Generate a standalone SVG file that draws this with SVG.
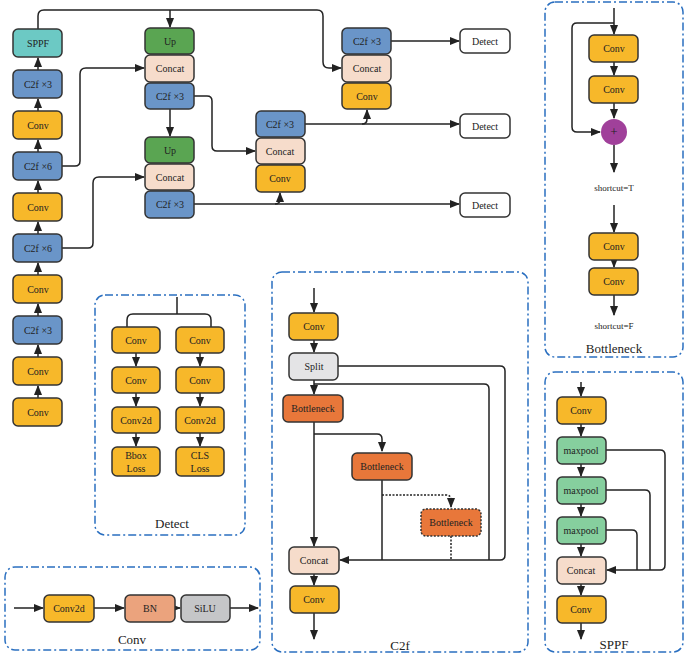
<svg xmlns="http://www.w3.org/2000/svg" width="685" height="656" viewBox="0 0 685 656">
<defs>
<marker id="a" viewBox="0 0 10 10" refX="9" refY="5" markerWidth="7" markerHeight="7" orient="auto"><path d="M0,1 L10,5 L0,9 z" fill="#222"/></marker>
<style>
rect.n{stroke:#333;stroke-width:1.5;rx:5}
.y{fill:#f7b82a}.b{fill:#6a95c8}.t{fill:#6cc9c4}.g{fill:#5aa552}.c{fill:#f6dccb}.o{fill:#e8773a}.s{fill:#e4e4e6}.m{fill:#86cf9e}.bn{fill:#eba37d}.si{fill:#c5c6c8}.w{fill:#fff}
text{font-family:"Liberation Serif",serif;font-size:10px;fill:#222;text-anchor:middle;dominant-baseline:central}
.lab{font-size:13px}
.p{fill:none;stroke:#2a6fc0;stroke-width:1.5;stroke-dasharray:8 3 2 3}
#conn path{fill:none;stroke:#222;stroke-width:1.5}
.d{stroke-dasharray:2 1.5}
</style>
</defs>
<rect fill="#fff" width="685" height="656"/>
<g id="panels">
<rect class="p" x="95" y="295" width="150" height="240" rx="10"/>
<rect class="p" x="5" y="567" width="255" height="83" rx="10"/>
<rect class="p" x="272" y="272" width="256" height="380" rx="10"/>
<rect class="p" x="545" y="2" width="138" height="355" rx="10"/>
<rect class="p" x="545" y="372" width="138" height="280" rx="10"/>
<text class="lab" x="172" y="523">Detect</text>
<text class="lab" x="132" y="639">Conv</text>
<text class="lab" x="400" y="645">C2f</text>
<text class="lab" x="614" y="348">Bottleneck</text>
<text class="lab" x="614" y="644">SPPF</text>
</g>
<g id="conn">
<path d="M38,29 V16 Q38,10 44,10 H317 Q323,10 323,16 V62 Q323,68 329,68 H341" marker-end="url(#a)"/>
<path d="M170,10 V27" marker-end="url(#a)"/>
<path d="M38,70 V58" marker-end="url(#a)"/>
<path d="M38,111 V99" marker-end="url(#a)"/>
<path d="M38,152 V140" marker-end="url(#a)"/>
<path d="M38,193 V181" marker-end="url(#a)"/>
<path d="M38,234 V222" marker-end="url(#a)"/>
<path d="M38,275 V263" marker-end="url(#a)"/>
<path d="M38,316 V304" marker-end="url(#a)"/>
<path d="M38,357 V345" marker-end="url(#a)"/>
<path d="M38,398 V386" marker-end="url(#a)"/>
<path d="M62,166 H75 Q80,166 80,161 V74 Q80,68 86,68 H144" marker-end="url(#a)"/>
<path d="M62,248 H88 Q93,248 93,243 V183 Q93,177 99,177 H144" marker-end="url(#a)"/>
<path d="M170,109 V136" marker-end="url(#a)"/>
<path d="M194,96 H207 Q212,96 212,101 V146 Q212,151 217,151 H255" marker-end="url(#a)"/>
<path d="M194,204 H459" marker-end="url(#a)"/>
<path d="M275,204 Q280,204 280,199 V193" marker-end="url(#a)"/>
<path d="M305,124 H459" marker-end="url(#a)"/>
<path d="M362,124 Q367,124 367,119 V110" marker-end="url(#a)"/>
<path d="M391,41 H459" marker-end="url(#a)"/>
<path d="M177,297 V314 M127,328 V320 Q127,314 133,314 H205 Q211,314 211,320 V328"/>
<path d="M136,353 V366" marker-end="url(#a)"/>
<path d="M136,393 V406" marker-end="url(#a)"/>
<path d="M136,433 V446" marker-end="url(#a)"/>
<path d="M200,353 V366" marker-end="url(#a)"/>
<path d="M200,393 V406" marker-end="url(#a)"/>
<path d="M200,433 V446" marker-end="url(#a)"/>
<path d="M14,608 H43" marker-end="url(#a)"/>
<path d="M94,608 H124" marker-end="url(#a)"/>
<path d="M175,608 H180" marker-end="url(#a)"/>
<path d="M230,608 H258" marker-end="url(#a)"/>
<path d="M314,288 V312" marker-end="url(#a)"/>
<path d="M314,340 V352" marker-end="url(#a)"/>
<path d="M314,380 V394" marker-end="url(#a)"/>
<path d="M338,366 H500 Q505,366 505,371 V555 Q505,560 500,560 H340" marker-end="url(#a)"/>
<path d="M314,384 H484 Q489,384 489,389 V560"/>
<path d="M314,422 V546" marker-end="url(#a)"/>
<path d="M314,434 H377 Q382,434 382,439 V451" marker-end="url(#a)"/>
<path d="M382,480 V560"/>
<path class="d" d="M382,495 H446 Q451,495 451,500 V507" marker-end="url(#a)"/>
<path class="d" d="M451,536 V560"/>
<path d="M314,574 V585" marker-end="url(#a)"/>
<path d="M314,613 V639" marker-end="url(#a)"/>
<path d="M614,8 V34" marker-end="url(#a)"/>
<path d="M614,62 V75" marker-end="url(#a)"/>
<path d="M614,103 V118" marker-end="url(#a)"/>
<path d="M614,23 H577 Q572,23 572,28 V127 Q572,132 577,132 H600" marker-end="url(#a)"/>
<path d="M614,145 V172" marker-end="url(#a)"/>
<path d="M614,205 V232" marker-end="url(#a)"/>
<path d="M614,260 V267" marker-end="url(#a)"/>
<path d="M614,295 V315" marker-end="url(#a)"/>
<path d="M581,382 V396" marker-end="url(#a)"/>
<path d="M581,424 V436" marker-end="url(#a)"/>
<path d="M581,464 V476" marker-end="url(#a)"/>
<path d="M581,504 V516" marker-end="url(#a)"/>
<path d="M581,544 V556" marker-end="url(#a)"/>
<path d="M581,584 V595" marker-end="url(#a)"/>
<path d="M581,623 V639" marker-end="url(#a)"/>
<path d="M606,450 H660 Q665,450 665,455 V565 Q665,570 660,570 H607" marker-end="url(#a)"/>
<path d="M606,490 H645 Q650,490 650,495 V570"/>
<path d="M606,530 H632 Q637,530 637,535 V570"/>
</g>
<g id="backbone">
<g id="b1"><rect class="n t" x="13" y="29" width="49" height="28"/><text x="38" y="43">SPPF</text></g>
<g id="b2"><rect class="n b" x="13" y="70" width="49" height="28"/><text x="38" y="84">C2f ×3</text></g>
<g id="b3"><rect class="n y" x="13" y="111" width="49" height="28"/><text x="38" y="125">Conv</text></g>
<g id="b4"><rect class="n b" x="13" y="152" width="49" height="28"/><text x="38" y="166">C2f ×6</text></g>
<g id="b5"><rect class="n y" x="13" y="193" width="49" height="28"/><text x="38" y="207">Conv</text></g>
<g id="b6"><rect class="n b" x="13" y="234" width="49" height="28"/><text x="38" y="248">C2f ×6</text></g>
<g id="b7"><rect class="n y" x="13" y="275" width="49" height="28"/><text x="38" y="289">Conv</text></g>
<g id="b8"><rect class="n b" x="13" y="316" width="49" height="28"/><text x="38" y="330">C2f ×3</text></g>
<g id="b9"><rect class="n y" x="13" y="357" width="49" height="28"/><text x="38" y="371">Conv</text></g>
<g id="b10"><rect class="n y" x="13" y="398" width="49" height="28"/><text x="38" y="412">Conv</text></g>
</g>
<g id="neck">
<g id="h1"><rect class="n g" x="145" y="28" width="49" height="26"/><text x="170" y="41">Up</text></g>
<g id="h2"><rect class="n c" x="145" y="55" width="49" height="27"/><text x="170" y="68">Concat</text></g>
<g id="h3"><rect class="n b" x="145" y="83" width="49" height="26"/><text x="170" y="96">C2f ×3</text></g>
<g id="h4"><rect class="n g" x="145" y="137" width="49" height="26"/><text x="170" y="150">Up</text></g>
<g id="h5"><rect class="n c" x="145" y="164" width="49" height="26"/><text x="170" y="177">Concat</text></g>
<g id="h6"><rect class="n b" x="145" y="191" width="49" height="27"/><text x="170" y="204">C2f ×3</text></g>
<g id="h7"><rect class="n b" x="256" y="111" width="49" height="26"/><text x="280" y="124">C2f ×3</text></g>
<g id="h8"><rect class="n c" x="256" y="138" width="49" height="26"/><text x="280" y="151">Concat</text></g>
<g id="h9"><rect class="n y" x="256" y="165" width="49" height="27"/><text x="280" y="178">Conv</text></g>
<g id="h10"><rect class="n b" x="342" y="28" width="49" height="26"/><text x="367" y="41">C2f ×3</text></g>
<g id="h11"><rect class="n c" x="342" y="55" width="49" height="27"/><text x="367" y="68">Concat</text></g>
<g id="h12"><rect class="n y" x="342" y="83" width="49" height="26"/><text x="367" y="96">Conv</text></g>
<g id="d1"><rect class="n w" x="460" y="29" width="50" height="24"/><text x="485" y="41">Detect</text></g>
<g id="d2"><rect class="n w" x="460" y="114" width="50" height="24"/><text x="485" y="126">Detect</text></g>
<g id="d3"><rect class="n w" x="460" y="193" width="50" height="24"/><text x="485" y="205">Detect</text></g>
</g>
<g id="detect">
<g id="e1"><rect class="n y" x="112" y="327" width="48" height="26"/><text x="136" y="340">Conv</text></g>
<g id="e2"><rect class="n y" x="112" y="367" width="48" height="26"/><text x="136" y="380">Conv</text></g>
<g id="e3"><rect class="n y" x="112" y="407" width="48" height="26"/><text x="136" y="420">Conv2d</text></g>
<g id="e4"><rect class="n y" x="112" y="447" width="48" height="29"/><text x="136" y="455">Bbox</text><text x="136" y="468">Loss</text></g>
<g id="e5"><rect class="n y" x="176" y="327" width="48" height="26"/><text x="200" y="340">Conv</text></g>
<g id="e6"><rect class="n y" x="176" y="367" width="48" height="26"/><text x="200" y="380">Conv</text></g>
<g id="e7"><rect class="n y" x="176" y="407" width="48" height="26"/><text x="200" y="420">Conv2d</text></g>
<g id="e8"><rect class="n y" x="176" y="447" width="48" height="29"/><text x="200" y="455">CLS</text><text x="200" y="468">Loss</text></g>
</g>
<g id="convp">
<g id="k1"><rect class="n y" x="44" y="595" width="50" height="27"/><text x="69" y="608">Conv2d</text></g>
<g id="k2"><rect class="n bn" x="125" y="595" width="50" height="27"/><text x="150" y="608">BN</text></g>
<g id="k3"><rect class="n si" x="181" y="595" width="49" height="27"/><text x="205" y="608">SiLU</text></g>
</g>
<g id="c2f">
<g id="f1"><rect class="n y" x="289" y="313" width="49" height="27"/><text x="314" y="326">Conv</text></g>
<g id="f2"><rect class="n s" x="289" y="353" width="49" height="27"/><text x="314" y="366">Split</text></g>
<g id="f3"><rect class="n o" x="283" y="395" width="60" height="27"/><text x="313" y="408">Bottleneck</text></g>
<g id="f4"><rect class="n o" x="352" y="453" width="60" height="27"/><text x="382" y="466">Bottleneck</text></g>
<g id="f5"><rect class="n o d" x="421" y="509" width="60" height="27"/><text x="451" y="522">Bottleneck</text></g>
<g id="f6"><rect class="n c" x="289" y="547" width="50" height="27"/><text x="314" y="560">Concat</text></g>
<g id="f7"><rect class="n y" x="290" y="586" width="49" height="27"/><text x="314" y="599">Conv</text></g>
</g>
<g id="bneck">
<g id="g1"><rect class="n y" x="589" y="35" width="49" height="27"/><text x="614" y="48">Conv</text></g>
<g id="g2"><rect class="n y" x="589" y="76" width="49" height="27"/><text x="614" y="89">Conv</text></g>
<g id="g3"><ellipse cx="614" cy="132" rx="13" ry="13" fill="#a0409a"/><text x="614" y="131" style="font-size:13px">+</text></g>
<text x="614" y="188" style="font-size:9px">shortcut=T</text>
<g id="g4"><rect class="n y" x="589" y="233" width="49" height="27"/><text x="614" y="246">Conv</text></g>
<g id="g5"><rect class="n y" x="589" y="268" width="49" height="27"/><text x="614" y="281">Conv</text></g>
<text x="614" y="326" style="font-size:9px">shortcut=F</text>
</g>
<g id="sppf">
<g id="s1"><rect class="n y" x="557" y="397" width="49" height="27"/><text x="581" y="410">Conv</text></g>
<g id="s2"><rect class="n m" x="557" y="437" width="49" height="27"/><text x="581" y="450">maxpool</text></g>
<g id="s3"><rect class="n m" x="557" y="477" width="49" height="27"/><text x="581" y="490">maxpool</text></g>
<g id="s4"><rect class="n m" x="557" y="517" width="49" height="27"/><text x="581" y="530">maxpool</text></g>
<g id="s5"><rect class="n c" x="557" y="557" width="49" height="27"/><text x="581" y="570">Concat</text></g>
<g id="s6"><rect class="n y" x="557" y="596" width="49" height="27"/><text x="581" y="609">Conv</text></g>
</g>
</svg>
